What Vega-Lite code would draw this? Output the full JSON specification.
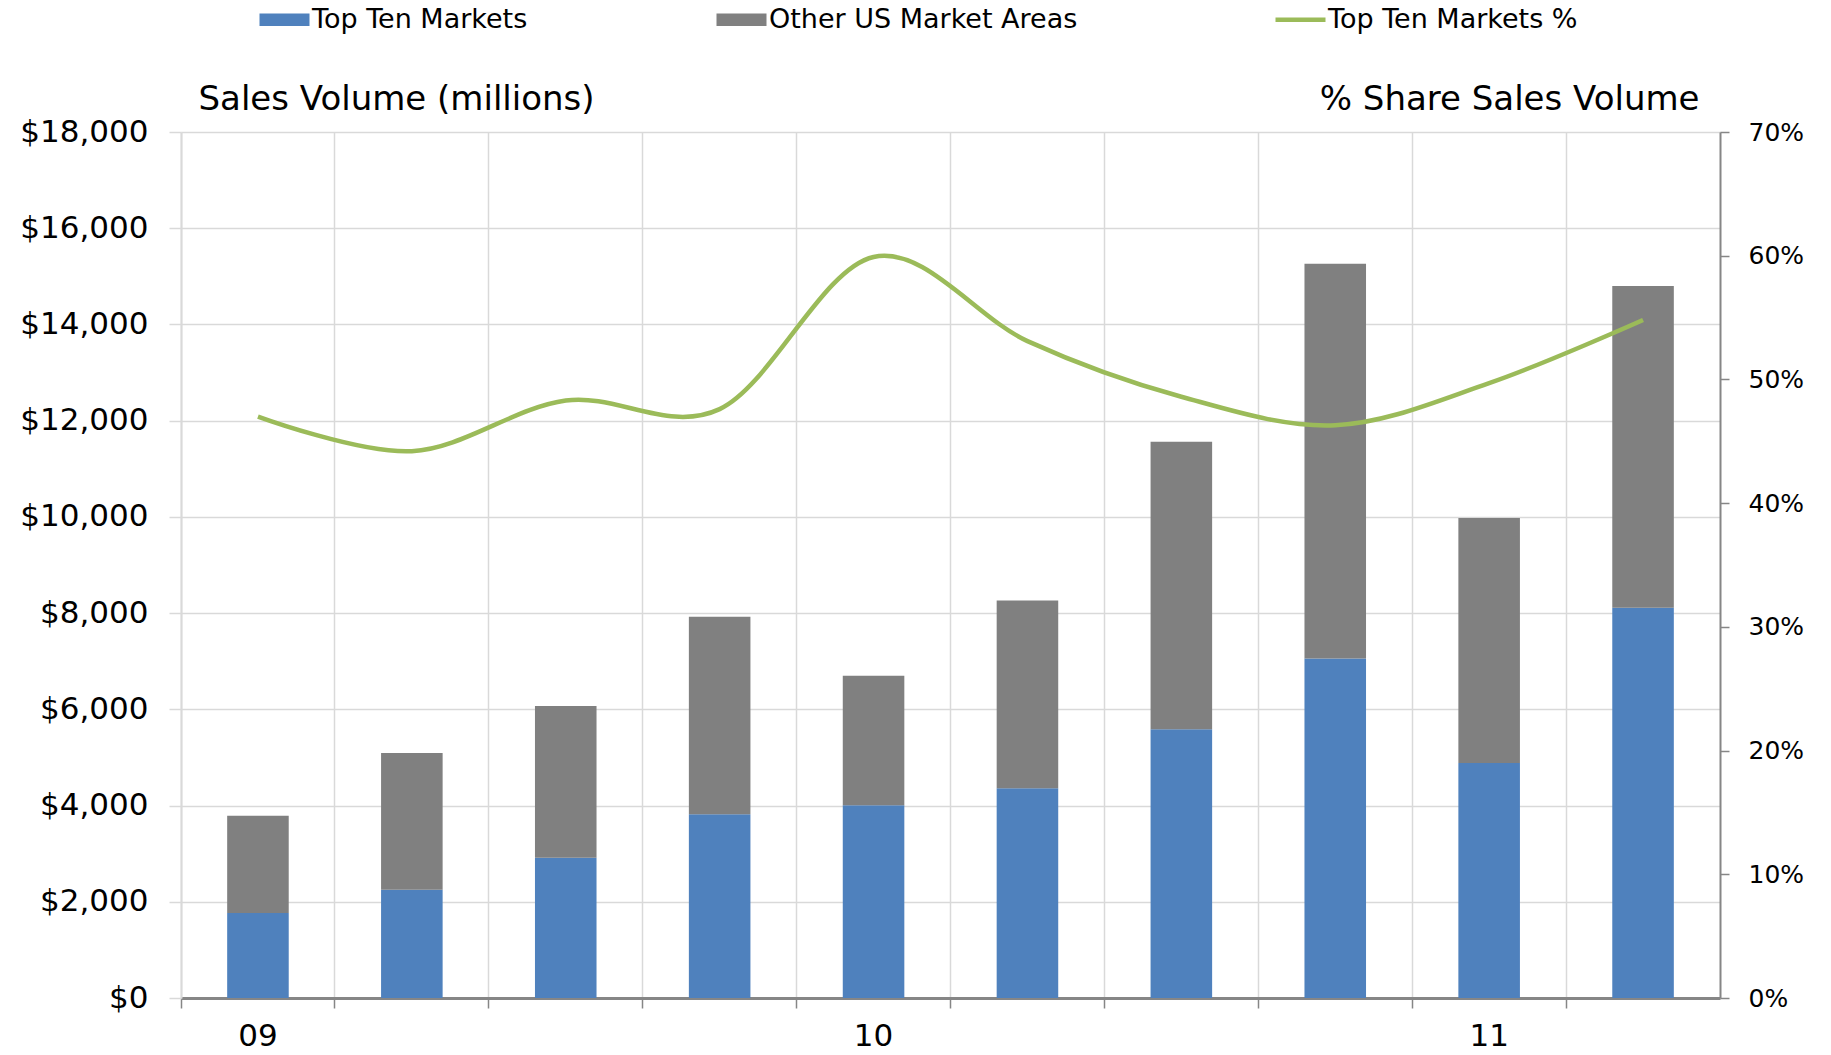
{
  "$schema": "https://vega.github.io/schema/vega-lite/v6.json",
  "width": 1539,
  "height": 866,
  "autosize": {"type": "none"},
  "padding": {"left": 181, "top": 132, "right": 111, "bottom": 57},
  "background": "white",
  "config": {
    "font": "DejaVu Sans",
    "view": {"stroke": null},
    "axis": {"labelColor": "black", "titleColor": "black", "titleFontWeight": "normal"}
  },
  "datasets": {
    "bars": [
      {"period": "2009 Q1", "series": "Top Ten Markets", "volume": 1765},
      {"period": "2009 Q1", "series": "Other US Market Areas", "volume": 2025},
      {"period": "2009 Q2", "series": "Top Ten Markets", "volume": 2250},
      {"period": "2009 Q2", "series": "Other US Market Areas", "volume": 2840},
      {"period": "2009 Q3", "series": "Top Ten Markets", "volume": 2915},
      {"period": "2009 Q3", "series": "Other US Market Areas", "volume": 3155},
      {"period": "2009 Q4", "series": "Top Ten Markets", "volume": 3820},
      {"period": "2009 Q4", "series": "Other US Market Areas", "volume": 4105},
      {"period": "2010 Q1", "series": "Top Ten Markets", "volume": 4005},
      {"period": "2010 Q1", "series": "Other US Market Areas", "volume": 2695},
      {"period": "2010 Q2", "series": "Top Ten Markets", "volume": 4360},
      {"period": "2010 Q2", "series": "Other US Market Areas", "volume": 3900},
      {"period": "2010 Q3", "series": "Top Ten Markets", "volume": 5585},
      {"period": "2010 Q3", "series": "Other US Market Areas", "volume": 5975},
      {"period": "2010 Q4", "series": "Top Ten Markets", "volume": 7055},
      {"period": "2010 Q4", "series": "Other US Market Areas", "volume": 8205},
      {"period": "2011 Q1", "series": "Top Ten Markets", "volume": 4885},
      {"period": "2011 Q1", "series": "Other US Market Areas", "volume": 5090},
      {"period": "2011 Q2", "series": "Top Ten Markets", "volume": 8110},
      {"period": "2011 Q2", "series": "Other US Market Areas", "volume": 6690}
    ],
    "share": [
      {"period": "2009 Q1", "pct": 47.0},
      {"period": "2009 Q2", "pct": 44.2},
      {"period": "2009 Q3", "pct": 48.3},
      {"period": "2009 Q4", "pct": 47.6},
      {"period": "2010 Q1", "pct": 59.9},
      {"period": "2010 Q2", "pct": 53.1},
      {"period": "2010 Q3", "pct": 48.6},
      {"period": "2010 Q4", "pct": 46.3},
      {"period": "2011 Q1", "pct": 49.7},
      {"period": "2011 Q2", "pct": 54.8}
    ]
  },
  "layer": [
    {
      "data": {"name": "bars"},
      "mark": {"type": "bar", "width": {"band": 0.4}},
      "encoding": {
        "x": {
          "field": "period",
          "type": "ordinal",
          "scale": {"paddingInner": 0, "paddingOuter": 0},
          "axis": {
            "title": null,
            "bandPosition": 0,
            "grid": true,
            "gridColor": "#d9d9d9",
            "gridWidth": 1.5,
            "tickSize": 10,
            "tickColor": "#868686",
            "tickWidth": 1.5,
            "domainColor": "#868686",
            "domainWidth": 3,
            "labelAngle": 0,
            "labelFontSize": 31,
            "labelPadding": 13,
            "labelOverlap": false,
            "labelBound": false,
            "labelExpr": "slice(datum.value, 5) === 'Q1' ? slice(datum.value, 2, 4) : ''"
          }
        },
        "y": {
          "field": "volume",
          "type": "quantitative",
          "stack": "zero",
          "scale": {"domain": [0, 18000], "nice": false},
          "axis": {
            "values": [0, 2000, 4000, 6000, 8000, 10000, 12000, 14000, 16000, 18000],
            "format": "$,.0f",
            "labelFontSize": 31,
            "labelPadding": 21,
            "tickSize": 12,
            "tickColor": "#d9d9d9",
            "tickWidth": 1.5,
            "domainColor": "#d9d9d9",
            "domainWidth": 2,
            "grid": true,
            "gridColor": "#d9d9d9",
            "gridWidth": 1.5,
            "title": "Sales Volume (millions)",
            "titleAngle": 0,
            "titleAlign": "left",
            "titleBaseline": "middle",
            "titleX": 17,
            "titleY": -33,
            "titleFontSize": 34
          }
        },
        "color": {
          "field": "series",
          "type": "nominal",
          "scale": {
            "domain": ["Top Ten Markets", "Other US Market Areas", "Top Ten Markets %"],
            "range": ["#4F81BD", "#808080", "#9BBB59"]
          },
          "legend": {
            "orient": "none",
            "legendX": 90,
            "legendY": -126,
            "direction": "horizontal",
            "title": null,
            "padding": 0,
            "labelFontSize": 27,
            "labelColor": "black",
            "labelLimit": 0,
            "labelOffset": 14,
            "columnPadding": 188,
            "symbolSize": 2500,
            "symbolType": "M-1,-0.25H1V0.25H-1Z",
            "encode": {
              "symbols": {
                "update": {
                  "shape": {"signal": "datum.value === 'Top Ten Markets %' ? 'M-1,0H1' : 'M-1,-0.25H1V0.25H-1Z'"},
                  "fill": {"signal": "datum.value === 'Top Ten Markets' ? '#4F81BD' : (datum.value === 'Other US Market Areas' ? '#808080' : 'transparent')"},
                  "stroke": {"signal": "datum.value === 'Top Ten Markets %' ? '#9BBB59' : 'transparent'"},
                  "strokeWidth": {"signal": "datum.value === 'Top Ten Markets %' ? 4.5 : 0"},
                  "opacity": {"value": 1},
                  "fillOpacity": {"value": 1}
                }
              }
            }
          }
        },
        "order": {"field": "series", "sort": "descending"}
      }
    },
    {
      "data": {"name": "share"},
      "mark": {"type": "line", "interpolate": "cardinal", "strokeWidth": 4.5},
      "encoding": {
        "x": {"field": "period", "type": "ordinal"},
        "y": {
          "field": "pct",
          "type": "quantitative",
          "scale": {"domain": [0, 70], "nice": false},
          "axis": {
            "orient": "right",
            "values": [0, 10, 20, 30, 40, 50, 60, 70],
            "labelExpr": "datum.value + '%'",
            "labelFontSize": 25,
            "labelPadding": 19,
            "tickSize": 9,
            "tickColor": "#868686",
            "tickWidth": 1.5,
            "domainColor": "#868686",
            "domainWidth": 2,
            "grid": false,
            "title": "% Share Sales Volume",
            "titleAngle": 0,
            "titleAlign": "right",
            "titleBaseline": "middle",
            "titleX": -21,
            "titleY": -33,
            "titleFontSize": 34
          }
        },
        "color": {"datum": "Top Ten Markets %", "type": "nominal"}
      }
    }
  ],
  "resolve": {"scale": {"y": "independent"}}
}
